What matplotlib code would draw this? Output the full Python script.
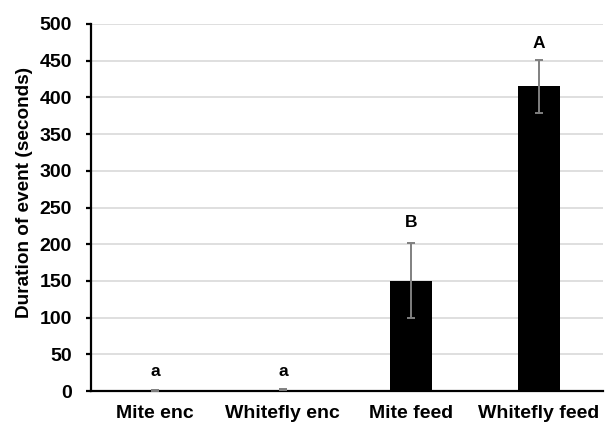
import matplotlib
matplotlib.use("Agg")
import matplotlib.pyplot as plt
import numpy as np

categories = ["Mite enc", "Whitefly enc", "Mite feed", "Whitefly feed"]
durations = [0.5, 1.5, 150, 415]
errors = [0.3, 0.8, 51, 36]
letters = ["a", "a", "B", "A"]
letter_pos = [20, 20, 223, 467]

plt.rcParams["font.family"] = ["Liberation Sans", "DejaVu Sans"]
plt.rcParams["font.weight"] = "bold"

fig = plt.figure(figsize=(6.06, 4.24), dpi=100)
ax = fig.add_axes([0.150, 0.0778, 0.845, 0.8656])

x = np.arange(len(categories))
ax.bar(x, durations, width=0.33, color="black", zorder=3)
ax.errorbar(x, durations, yerr=errors, fmt="none", ecolor="#808080",
            elinewidth=1.4, capsize=2.6, capthick=1.4, zorder=4)

for xi, yi, lab in zip(x, letter_pos, letters):
    ax.text(xi, yi, lab, ha="center", va="baseline", fontsize=12.5,
            fontweight="bold")

ax.set_xlim(-0.5, len(categories) - 0.5)
ax.set_ylim(0, 500)
ax.set_yticks(np.arange(0, 501, 50))
ax.yaxis.grid(True, color="#d9d9d9", linewidth=1.2, zorder=0)
ax.set_axisbelow(True)

for s in ["top", "right"]:
    ax.spines[s].set_visible(False)
ax.spines["left"].set_linewidth(1.6)
ax.spines["bottom"].set_linewidth(1.6)

ax.set_xticks(x)
ax.set_xticklabels(categories, fontsize=14, fontweight="bold")
ax.tick_params(axis="x", length=0, pad=10)
ax.tick_params(axis="y", length=3.6, width=1.6, labelsize=14, pad=10)
for lbl in ax.get_yticklabels():
    lbl.set_fontweight("bold")

ax.set_ylabel("Duration of event (seconds)", fontsize=13.7, fontweight="bold")
ax.yaxis.set_label_coords(-0.113, 0.542)

fig.savefig("out.png", dpi=100)
